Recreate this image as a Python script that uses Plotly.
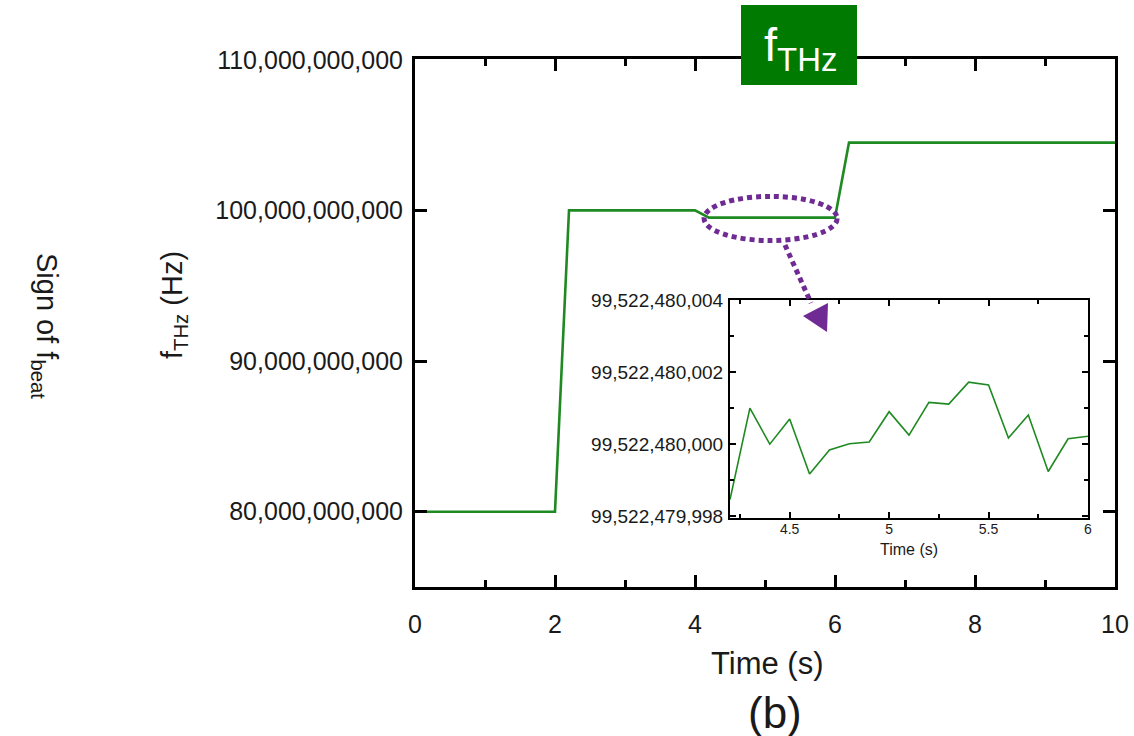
import plotly.graph_objects as go

W, H = 1134, 736

# Frequency of the THz source over the run (s, Hz)
main_time = [0, 2, 2.2, 4, 4.2, 6, 6.2, 10]
main_freq = [80e9, 80e9, 100e9, 100e9, 99522480000.0, 99522480000.0, 104.5e9, 104.5e9]

# Close-up of the locked interval between 4.2 s and 6 s
inset_time = [4.2, 4.3, 4.4, 4.5, 4.6, 4.7, 4.8, 4.9, 5.0, 5.1,
              5.2, 5.3, 5.4, 5.5, 5.6, 5.7, 5.8, 5.9, 6.0]
inset_freq = [99522479998.46, 99522480001.00, 99522480000.00, 99522480000.70,
              99522479999.17, 99522479999.84, 99522480000.01, 99522480000.06,
              99522480000.90, 99522480000.25, 99522480001.16, 99522480001.11,
              99522480001.72, 99522480001.64, 99522480000.17, 99522480000.81,
              99522479999.24, 99522480000.15, 99522480000.22]

main_xticks = [0, 2, 4, 6, 8, 10]
main_xminor = [1, 3, 5, 7, 9]
main_yticks = [80e9, 90e9, 100e9, 110e9]

inset_xticks = [4.5, 5, 5.5, 6]
inset_xminor = [4.25, 4.75, 5.25, 5.75]
inset_yticks = [99522479998, 99522480000, 99522480002, 99522480004]
inset_yminor = [99522479999, 99522480001, 99522480003]

FONT = "Liberation Sans, Arial, sans-serif"
GREEN = "#1f8a22"
PURPLE = "#6f2a93"
INK = "#1a1a1a"


def px(x):
    return x / W


def py(y):
    return 1 - y / H


fig = go.Figure()
fig.add_trace(go.Scatter(x=main_time, y=main_freq, mode="lines",
                         line=dict(color=GREEN, width=2.6),
                         xaxis="x", yaxis="y", showlegend=False))
fig.add_trace(go.Scatter(x=inset_time, y=inset_freq, mode="lines",
                         line=dict(color=GREEN, width=1.6),
                         xaxis="x2", yaxis="y2", showlegend=False))

main_axis = dict(showgrid=False, zeroline=False, showline=True, automargin=False,
                 linecolor="black", linewidth=3, mirror="allticks",
                 ticks="inside", tickcolor="black", tickwidth=3, ticklen=12,
                 tickfont=dict(family=FONT, size=25, color=INK))
inset_axis = dict(showgrid=False, zeroline=False, showline=True, automargin=False,
                  linecolor="black", linewidth=2, mirror="allticks",
                  ticks="inside", tickcolor="black", tickwidth=1.5, ticklen=6)

fig.update_layout(
    width=W, height=H,
    margin=dict(l=0, r=0, t=0, b=0, autoexpand=False),
    paper_bgcolor="white", plot_bgcolor="white",
    xaxis=dict(main_axis, domain=[px(415), px(1115)], range=[0, 10],
               tickmode="array", tickvals=main_xticks,
               minor=dict(tickmode="array", tickvals=main_xminor, ticklen=7,
                          ticks="inside", tickcolor="black", tickwidth=3),
               ticklabelstandoff=13, anchor="y"),
    yaxis=dict(main_axis, domain=[py(587), py(59)], range=[75e9, 110.05e9],
               tickmode="array", tickvals=main_yticks, tickformat=",.0f",
               ticklabelstandoff=4, anchor="x"),
    xaxis2=dict(inset_axis, domain=[px(730), px(1088)], range=[4.2, 6],
                tickmode="array", tickvals=inset_xticks,
                ticktext=["4.5", "5", "5.5", "6"],
                minor=dict(tickmode="array", tickvals=inset_xminor, ticklen=4,
                           ticks="inside", tickcolor="black", tickwidth=1.5),
                tickfont=dict(family=FONT, size=14, color=INK),
                ticklabelstandoff=-3, anchor="y2"),
    yaxis2=dict(inset_axis, domain=[py(518), py(300)],
                range=[99522479997.95, 99522480004.0],
                tickmode="array", tickvals=inset_yticks, tickformat=",.0f",
                minor=dict(tickmode="array", tickvals=inset_yminor, ticklen=4,
                           ticks="inside", tickcolor="black", tickwidth=1.5),
                tickfont=dict(family=FONT, size=19, color=INK),
                ticklabelstandoff=1, anchor="x2"),
)

shapes = [
    # green title badge
    dict(type="rect", xref="paper", yref="paper",
         x0=px(741), x1=px(857), y0=py(85), y1=py(5),
         fillcolor="#007a00", line=dict(width=0), layer="above"),
    # dotted ellipse around the locked segment
    dict(type="circle", xref="x", yref="y",
         x0=4.13, x1=6.03, y0=98.0e9, y1=100.93e9,
         line=dict(color=PURPLE, width=5, dash="5px,4px"), layer="above"),
    # dotted pointer towards the close-up
    dict(type="line", xref="paper", yref="paper",
         x0=px(785), y0=py(245), x1=px(811), y1=py(303),
         line=dict(color=PURPLE, width=5, dash="5px,4px"), layer="above"),
    dict(type="path", xref="paper", yref="paper",
         path=f"M {px(803)} {py(316)} L {px(828)} {py(303)} L {px(827)} {py(332)} Z",
         fillcolor=PURPLE, line=dict(width=0), layer="above"),
]
fig.update_layout(shapes=shapes)


def label(text, x, y, size, angle=0, color=INK):
    fig.add_annotation(text=text, xref="paper", yref="paper",
                       x=px(x), y=py(y), xanchor="center", yanchor="middle",
                       showarrow=False, textangle=angle,
                       font=dict(family=FONT, size=size, color=color))


label("f<sub>THz</sub>", 800, 48, 47, color="white")
label("Time (s)", 767, 663, 31)
label("(b)", 775, 712, 44)
label("f<sub>THz</sub> (Hz)", 174, 305, 29, angle=-90)
label("Sign of f<sub>beat</sub>", 45, 326, 29, angle=90)
label("Time (s)", 909, 549, 16)

fig.write_html("out.html")
